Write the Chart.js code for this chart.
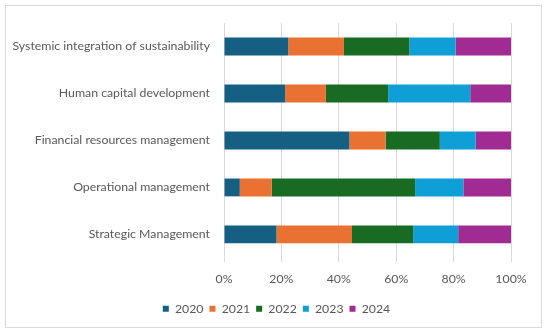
<!DOCTYPE html>
<html>
<head>
<meta charset="utf-8">
<script src="https://cdn.jsdelivr.net/npm/chart.js@4"></script>
<style>
  body { margin: 0; background: #fff; }
  #box { position: absolute; left: 5px; top: 5px; width: 535px; height: 321px; border: 1px solid #d9d9d9; }
  #chart { position: absolute; left: 0; top: 0; }
</style>
</head>
<body>
<div id="box"></div>
<canvas id="chart" width="550" height="335"></canvas>
<script>
const categories = [
  'Systemic integration of sustainability',
  'Human capital development',
  'Financial resources management',
  'Operational management',
  'Strategic Management'
];
const years = ['2020', '2021', '2022', '2023', '2024'];

// share per year, in percent
const y2020 = [22.4, 21.3, 43.7, 5.5, 18.3];
const y2021 = [19.4, 14.2, 12.6, 11.1, 26.3];
const y2022 = [22.8, 21.7, 18.9, 50.0, 21.3];
const y2023 = [16.1, 28.6, 12.5, 16.8, 15.7];
const y2024 = [19.3, 14.2, 12.3, 16.6, 18.4];

const colors = ['#156082', '#e97132', '#196b24', '#0f9ed5', '#a02b93'];
const series = [y2020, y2021, y2022, y2023, y2024];

Chart.defaults.font.family = "Lato, sans-serif";
Chart.defaults.font.size = 12.3;
Chart.defaults.color = '#595959';

// center the legend on the whole frame, not just the left part
const shiftLegend = {
  id: 'shiftLegend',
  afterLayout(chart) {
    chart.legend.left += 21;
    chart.legend.right += 21;
  }
};

new Chart(document.getElementById('chart'), {
  type: 'bar',
  data: {
    labels: categories,
    datasets: series.map((d, i) => ({
      label: years[i],
      data: d,
      backgroundColor: colors[i],
      barPercentage: 0.38,
      categoryPercentage: 1
    }))
  },
  options: {
    indexAxis: 'y',
    responsive: false,
    animation: false,
    layout: { padding: { top: 23, right: 39, bottom: 10, left: 0 } },
    scales: {
      x: {
        stacked: true,
        min: 0,
        max: 100,
        ticks: { stepSize: 20, callback: v => v + '%', padding: 10 },
        grid: { color: '#d9d9d9', tickLength: 4 },
        border: { display: false }
      },
      y: {
        stacked: true,
        grid: { display: false },
        border: { display: false },
        ticks: { padding: 6 },
        afterFit: s => { s.width = 224; }
      }
    },
    plugins: {
      legend: {
        position: 'bottom',
        labels: { boxWidth: 6, boxHeight: 6, padding: 6 }
      },
      tooltip: { enabled: false }
    }
  },
  plugins: [shiftLegend]
});
</script>
</body>
</html>
